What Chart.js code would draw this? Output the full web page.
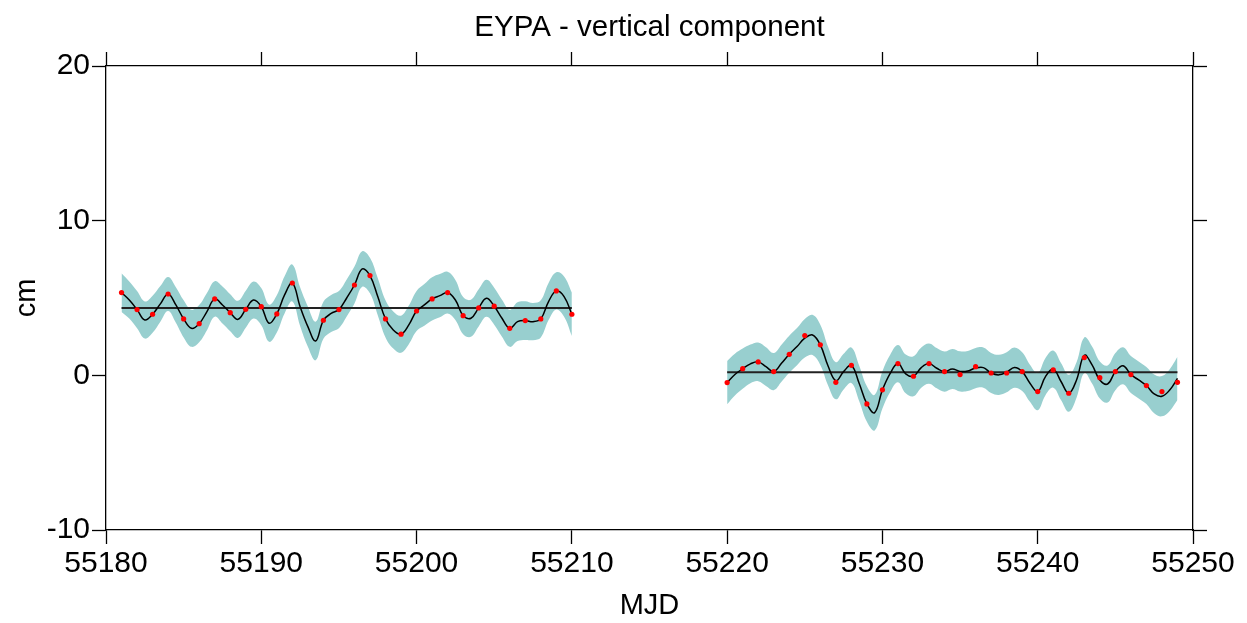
<!DOCTYPE html>
<html>
<head>
<meta charset="utf-8">
<script src="https://cdn.jsdelivr.net/npm/chart.js@4"></script>
<style>
  html, body { margin: 0; padding: 0; background: #fff; }
</style>
</head>
<body>
<canvas id="chart" width="1247" height="623"></canvas>
<script>
// observed points (MJD, cm) - no sample at 55193
const ptDays1 = [55181, 55182, 55183, 55184, 55185, 55186, 55187, 55188, 55189, 55190, 55191, 55192,
  55194, 55195, 55196, 55197, 55198, 55199, 55200, 55201, 55202, 55203, 55204, 55205, 55206, 55207, 55208, 55209, 55210];
const ptVals1 = [5.35, 4.25, 3.95, 5.26, 3.65, 3.34, 4.94, 4.05, 4.27, 4.44, 3.97, 5.97,
  3.56, 4.25, 5.84, 6.45, 3.65, 2.66, 4.16, 4.94, 5.35, 3.86, 4.36, 4.47, 3.04, 3.54, 3.65, 5.46, 3.95];

const ptDays2 = [55220, 55221, 55222, 55223, 55224, 55225, 55226, 55227, 55228, 55229, 55230, 55231, 55232, 55233, 55234,
  55235, 55236, 55237, 55238, 55239, 55240, 55241, 55242, 55243, 55244, 55245, 55246, 55247, 55248, 55249];
const ptVals2 = [-0.47, 0.43, 0.87, 0.24, 1.36, 2.57, 1.97, -0.45, 0.65, -1.85, -0.94, 0.76, -0.06, 0.76, 0.24,
  0.05, 0.56, 0.15, 0.15, 0.24, -1.05, 0.35, -1.16, 1.15, -0.15, 0.24, 0.05, -0.66, -1.05, -0.45];

// fitted curve, read every half day
const curveDays1 = [55181, 55181.5, 55182, 55182.5, 55183, 55183.5, 55184, 55184.5, 55185, 55185.5,
  55186, 55186.5, 55187, 55187.5, 55188, 55188.5, 55189, 55189.5, 55190, 55190.5,
  55191, 55191.5, 55192, 55192.5, 55193, 55193.5, 55194, 55194.5, 55195, 55195.5,
  55196, 55196.5, 55197, 55197.5, 55198, 55198.5, 55199, 55199.5, 55200, 55200.5,
  55201, 55201.5, 55202, 55202.5, 55203, 55203.5, 55204, 55204.5, 55205, 55205.5,
  55206, 55206.5, 55207, 55207.5, 55208, 55208.5, 55209, 55209.5, 55210];
const curveVals1 = [5.35, 4.87, 4.25, 3.58, 3.95, 4.62, 5.26, 4.55, 3.65, 3.04,
  3.34, 4.12, 4.94, 4.55, 4.05, 3.62, 4.27, 4.87, 4.44, 3.37,
  3.97, 5.2, 5.97, 4.44, 3.15, 2.22, 3.56, 4.0, 4.25, 5.0,
  5.84, 6.88, 6.45, 5.09, 3.65, 2.93, 2.66, 3.26, 4.16, 4.55,
  4.94, 5.15, 5.35, 4.87, 3.86, 3.69, 4.36, 4.98, 4.47, 3.69,
  3.04, 3.47, 3.54, 3.47, 3.65, 4.77, 5.46, 5.09, 3.95];
const sigma1 = [1.25, 1.2, 1.2, 1.2, 1.2, 1.15, 1.1, 1.15, 1.2, 1.2,
  1.2, 1.2, 1.15, 1.2, 1.2, 1.2, 1.2, 1.2, 1.2, 1.2,
  1.2, 1.2, 1.2, 1.25, 1.3, 1.25, 1.2, 1.2, 1.2, 1.2,
  1.2, 1.15, 1.15, 1.2, 1.2, 1.2, 1.2, 1.25, 1.3, 1.35,
  1.4, 1.4, 1.35, 1.3, 1.2, 1.2, 1.2, 1.2, 1.2, 1.2,
  1.2, 1.25, 1.25, 1.2, 1.2, 1.2, 1.2, 1.3, 1.4];

const curveDays2 = [55220, 55220.5, 55221, 55221.5, 55222, 55222.5, 55223, 55223.5, 55224, 55224.5,
  55225, 55225.5, 55226, 55226.5, 55227, 55227.5, 55228, 55228.5, 55229, 55229.5,
  55230, 55230.5, 55231, 55231.5, 55232, 55232.5, 55233, 55233.5, 55234, 55234.5,
  55235, 55235.5, 55236, 55236.5, 55237, 55237.5, 55238, 55238.5, 55239, 55239.5,
  55240, 55240.5, 55241, 55241.5, 55242, 55242.5, 55243, 55243.5, 55244, 55244.5,
  55245, 55245.5, 55246, 55246.5, 55247, 55247.5, 55248, 55248.5, 55249];
const curveVals2 = [-0.47, 0.05, 0.43, 0.74, 0.87, 0.56, 0.24, 0.78, 1.36, 1.86,
  2.4, 2.61, 1.97, 0.6, -0.35, 0.24, 0.65, -0.51, -1.85, -2.41,
  -0.94, 0.13, 0.76, 0.09, -0.06, 0.5, 0.76, 0.46, 0.24, 0.41,
  0.25, 0.28, 0.47, 0.5, 0.15, 0.03, 0.2, 0.5, 0.24, -0.51,
  -1.05, -0.08, 0.4, -0.4, -1.16, -0.3, 1.3, 0.67, -0.3, -0.56,
  0.24, 0.62, 0.05, -0.3, -0.66, -1.2, -1.35, -0.95, -0.2];
const sigma2 = [1.4, 1.35, 1.3, 1.25, 1.25, 1.25, 1.2, 1.2, 1.2, 1.2,
  1.25, 1.3, 1.3, 1.25, 1.2, 1.15, 1.15, 1.15, 1.15, 1.15,
  1.2, 1.2, 1.2, 1.25, 1.3, 1.3, 1.3, 1.3, 1.3, 1.3,
  1.3, 1.3, 1.3, 1.3, 1.3, 1.3, 1.3, 1.3, 1.25, 1.2,
  1.2, 1.2, 1.2, 1.2, 1.2, 1.15, 1.15, 1.2, 1.2, 1.2,
  1.2, 1.2, 1.2, 1.2, 1.2, 1.25, 1.3, 1.35, 1.4];

// mean level of each segment
const meanStart = [55181, 55220];
const meanEnd = [55210, 55249];
const meanVals = [4.35, 0.2];

const xTicks = [55180, 55190, 55200, 55210, 55220, 55230, 55240, 55250];
const yTicks = [-10, 0, 10, 20];

const FONT = 'Liberation Sans, Arial, Helvetica, sans-serif';
const BAND = 'rgb(152, 207, 207)';

function pts(xs, ys) {
  return xs.map((x, i) => ({x: x, y: ys[i]}));
}
function band(xs, ys, sig, sign) {
  return xs.map((x, i) => ({x: x, y: ys[i] + sign * sig[i]}));
}

const datasets = [];
// points on top
datasets.push({data: pts(ptDays1, ptVals1).concat(pts(ptDays2, ptVals2)),
  showLine: false, pointRadius: 2.6, pointBackgroundColor: 'red', pointBorderWidth: 0, order: 0});
[[curveDays1, curveVals1], [curveDays2, curveVals2]].forEach(([xs, ys]) => {
  datasets.push({data: pts(xs, ys), showLine: true, borderColor: '#000', borderWidth: 1.5,
    pointRadius: 0, tension: 0.4, fill: false, order: 1});
});
meanVals.forEach((m, i) => {
  datasets.push({data: [{x: meanStart[i], y: m}, {x: meanEnd[i], y: m}], showLine: true,
    borderColor: '#222', borderWidth: 2, pointRadius: 0, fill: false, order: 2});
});
[[curveDays1, curveVals1, sigma1], [curveDays2, curveVals2, sigma2]].forEach(([xs, ys, sg]) => {
  datasets.push({data: band(xs, ys, sg, 1), showLine: true, borderWidth: 0, borderColor: 'rgba(0,0,0,0)',
    pointRadius: 0, tension: 0.4, backgroundColor: BAND, fill: '+1', order: 3});
  datasets.push({data: band(xs, ys, sg, -1), showLine: true, borderWidth: 0, borderColor: 'rgba(0,0,0,0)',
    pointRadius: 0, tension: 0.4, fill: false, order: 3});
});

function axisCommon() {
  return {
    grid: {drawOnChartArea: false, drawTicks: true, tickLength: 14, tickColor: '#000', tickWidth: 1.3},
    border: {display: true, color: '#000', width: 1.3}
  };
}

new Chart(document.getElementById('chart'), {
  type: 'scatter',
  data: {datasets: datasets},
  options: {
    responsive: false,
    animation: false,
    layout: {padding: 0},
    plugins: {
      legend: {display: false},
      tooltip: {enabled: false},
      title: {display: false}
    },
    scales: {
      x: Object.assign(axisCommon(), {
        type: 'linear', position: 'bottom', min: 55180, max: 55250,
        afterBuildTicks: s => { s.ticks = xTicks.map(v => ({value: v})); },
        ticks: {color: '#000', font: {family: FONT, size: 30}, padding: 2, maxRotation: 0,
          autoSkip: false, callback: v => String(v)},
        title: {display: true, text: 'MJD', color: '#000', font: {family: FONT, size: 29},
          padding: {top: 0, bottom: 0}},
        afterFit: s => { s.height = 93; }
      }),
      x2: Object.assign(axisCommon(), {
        type: 'linear', position: 'top', min: 55180, max: 55250,
        afterBuildTicks: s => { s.ticks = xTicks.map(v => ({value: v})); },
        ticks: {display: false},
        title: {display: true, text: 'EYPA - vertical component', color: '#000',
          font: {family: FONT, size: 29.5}, padding: {top: 10, bottom: 0}},
        afterFit: s => { s.height = 66; }
      }),
      y: Object.assign(axisCommon(), {
        type: 'linear', position: 'left', min: -10, max: 20,
        afterBuildTicks: s => { s.ticks = yTicks.map(v => ({value: v})); },
        ticks: {color: '#000', font: {family: FONT, size: 30}, padding: 2, callback: v => String(v)},
        title: {display: true, text: 'cm', color: '#000', font: {family: FONT, size: 29},
          padding: {top: 10, bottom: 0}},
        afterFit: s => { s.width = 106; }
      }),
      y2: Object.assign(axisCommon(), {
        type: 'linear', position: 'right', min: -10, max: 20,
        afterBuildTicks: s => { s.ticks = yTicks.map(v => ({value: v})); },
        ticks: {display: false},
        afterFit: s => { s.width = 54; }
      })
    }
  }
});
</script>
</body>
</html>
